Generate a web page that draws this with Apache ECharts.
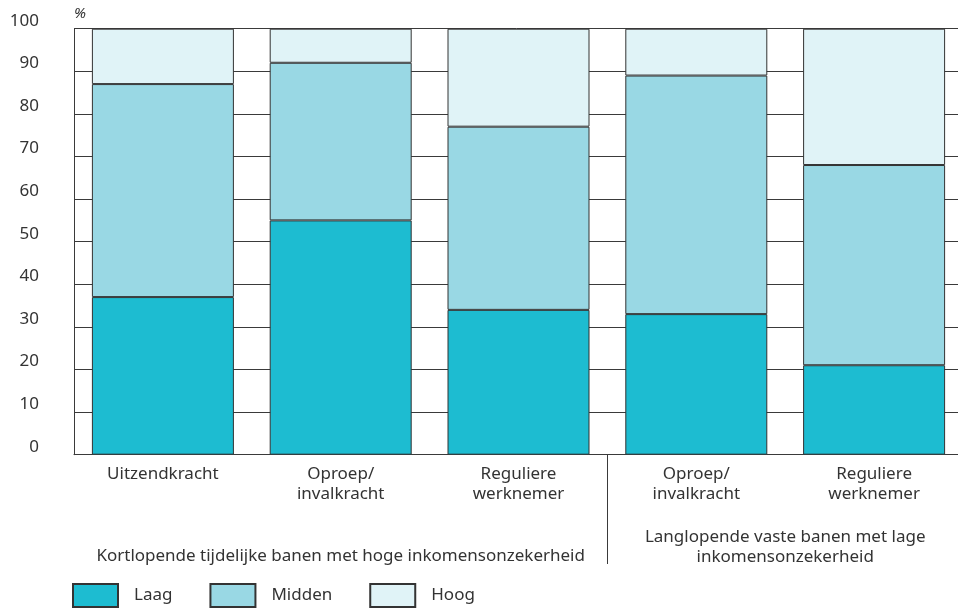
<!DOCTYPE html>
<html>
<head>
<meta charset="utf-8">
<script src="https://cdn.jsdelivr.net/npm/echarts@6/dist/echarts.min.js"></script>
<style>
  html, body { margin: 0; padding: 0; background: #fff; }
  #chart { width: 958px; height: 610px; }
</style>
</head>
<body>
<div id="chart"></div>
<script>
// Income-level shares per job type (percent)
const categories = ['Uitzendkracht', 'Oproep/\ninvalkracht', 'Reguliere\nwerknemer', 'Oproep/\ninvalkracht', 'Reguliere\nwerknemer'];
const laag   = [37, 55, 34, 33, 21];
const midden = [50, 37, 43, 56, 47];
const hoog   = [13, 8, 23, 11, 32];
const seriesNames = ['Laag', 'Midden', 'Hoog'];
const groupShort = 'Kortlopende tijdelijke banen met hoge inkomensonzekerheid';
const groupLong = 'Langlopende vaste banen met lage\ninkomensonzekerheid';

const FONT = 'Noto Sans';
const TEXT = '#333333';
const LINE = '#3a3a3a';
const colors = ['#1dbcd1', '#99d8e4', '#e0f3f7'];

const chart = echarts.init(document.getElementById('chart'), null, { renderer: 'canvas' });

function barSeries(name, data, color) {
  return {
    name: name,
    type: 'bar',
    stack: 'total',
    barWidth: 142,
    data: data,
    itemStyle: { color: color, borderColor: '#333333', borderWidth: 1 },
    emphasis: { disabled: true }
  };
}

chart.setOption({
  animation: false,
  textStyle: { fontFamily: FONT },
  grid: { left: 74, top: 28.7, width: 889, height: 426, containLabel: false, outerBoundsMode: 'none' },
  xAxis: {
    type: 'category',
    data: categories,
    axisTick: { show: false },
    axisLine: { show: true, lineStyle: { color: LINE, width: 1 } },
    axisLabel: { color: TEXT, fontSize: 17, lineHeight: 20, margin: 9, fontFamily: FONT }
  },
  yAxis: {
    type: 'value',
    min: 0, max: 100, interval: 10,
    name: '%',
    nameLocation: 'end',
    nameGap: 7,
    nameTextStyle: { color: TEXT, fontSize: 15, fontStyle: 'italic', align: 'left', padding: [0, 0, 0, 0] },
    axisTick: { show: false },
    axisLine: { show: true, lineStyle: { color: LINE, width: 1 } },
    axisLabel: { color: TEXT, fontSize: 17, margin: 35, verticalAlign: 'bottom', lineHeight: 16, fontFamily: FONT },
    splitLine: { show: true, lineStyle: { color: LINE, width: 1 } }
  },
  legend: {
    left: 72, top: 583,
    padding: 0,
    itemWidth: 45, itemHeight: 23, itemGap: 37,
    icon: 'rect',
    selectedMode: false,
    data: seriesNames,
    textStyle: { color: TEXT, fontSize: 17, fontFamily: FONT, padding: [0, 0, 0, 11] }
  },
  series: [
    barSeries(seriesNames[0], laag, colors[0]),
    barSeries(seriesNames[1], midden, colors[1]),
    barSeries(seriesNames[2], hoog, colors[2])
  ]
});

// Group captions and divider placed from the category axis
const px = i => chart.convertToPixel({ xAxisIndex: 0 }, i);
const c1 = px(1);
const c2 = (px(3) + px(4)) / 2;
const divX = Math.round((px(2) + px(3)) / 2) + 0.5;
const baseY = chart.convertToPixel({ yAxisIndex: 0 }, 0);

chart.setOption({
  graphic: [
    {
      type: 'line',
      shape: { x1: divX, y1: baseY, x2: divX, y2: 564 },
      style: { stroke: LINE, lineWidth: 1 },
      silent: true
    },
    {
      type: 'text',
      x: c1, y: 556,
      style: { text: groupShort, fill: TEXT, font: '17px "' + FONT + '"', align: 'center', verticalAlign: 'middle' },
      silent: true
    },
    {
      type: 'text',
      x: c2, y: 547,
      style: { text: groupLong, fill: TEXT, font: '17px "' + FONT + '"', lineHeight: 20, align: 'center', verticalAlign: 'middle' },
      silent: true
    }
  ]
});
</script>
</body>
</html>
